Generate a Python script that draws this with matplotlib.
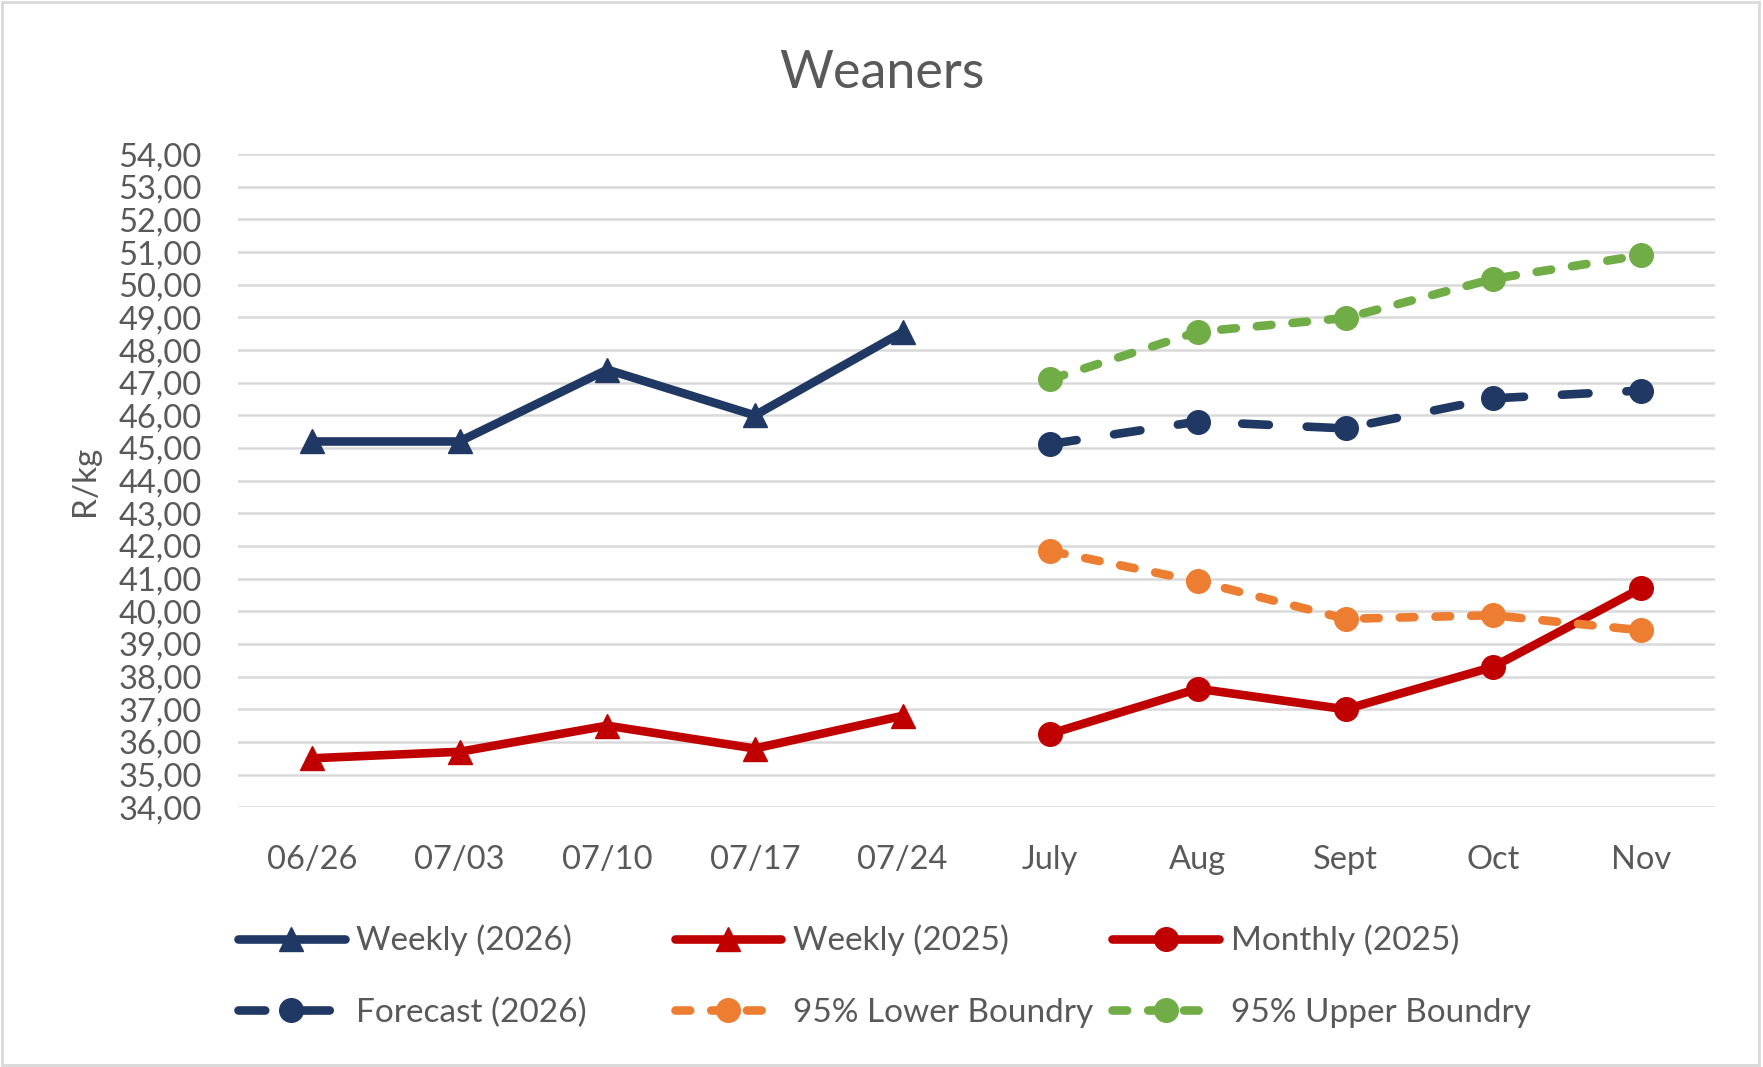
import matplotlib.pyplot as plt
from matplotlib.patches import Rectangle

plt.rcParams['font.family'] = ['Lato', 'DejaVu Sans']

# categories
weeks = ["06/26", "07/03", "07/10", "07/17", "07/24"]
months = ["July", "Aug", "Sept", "Oct", "Nov"]

# series values (R/kg)
weekly_2026 = [45.2, 45.2, 47.4, 46.0, 48.55]
weekly_2025 = [35.5, 35.7, 36.5, 35.8, 36.8]
monthly_2025 = [36.25, 37.63, 37.0, 38.3, 40.7]
forecast_2026 = [45.12, 45.81, 45.6, 46.52, 46.76]
lower_95 = [41.85, 40.92, 39.77, 39.88, 39.42]
upper_95 = [47.1, 48.56, 48.98, 50.18, 50.9]

navy = '#1F3864'
red = '#C00000'
orange = '#ED7D31'
green = '#70AD47'
grey_text = '#595959'

fig = plt.figure(figsize=(17.63, 10.67), dpi=100)
ax = fig.add_axes([0.135, 0.2434, 0.8376, 0.6122])

lw = 6.2
ms = 17

l1, = ax.plot(weeks, weekly_2026, color=navy, lw=lw, marker='^', ms=ms,
              solid_capstyle='round', label='Weekly (2026)')
l2, = ax.plot(weeks, weekly_2025, color=red, lw=lw, marker='^', ms=ms,
              solid_capstyle='round', label='Weekly (2025)')
l3, = ax.plot(months, monthly_2025, color=red, lw=lw, marker='o', ms=ms,
              solid_capstyle='round', label='Monthly (2025)')
l4, = ax.plot(months, forecast_2026, color=navy, lw=lw, marker='o', ms=ms,
              dashes=(3.1, 4.4), dash_capstyle='round', label='Forecast (2026)')
l5, = ax.plot(months, lower_95, color=orange, lw=lw, marker='o', ms=ms,
              dashes=(1.7, 2.45), dash_capstyle='round', label='95% Lower Boundry')
l6, = ax.plot(months, upper_95, color=green, lw=lw, marker='o', ms=ms,
              dashes=(1.7, 2.45), dash_capstyle='round', label='95% Upper Boundry')

ax.set_xlim(-0.5, 9.5)
ax.set_ylim(34, 54)
ax.set_yticks(range(34, 55))
ax.set_yticklabels([f"{v},00" for v in range(34, 55)])
ax.grid(axis='y', color='#D9D9D9', lw=1.8, zorder=0)
ax.set_axisbelow(True)
for s in ax.spines.values():
    s.set_visible(False)
ax.tick_params(axis='y', length=0, pad=26, labelsize=23.5, labelcolor=grey_text)
ax.tick_params(axis='x', length=0, pad=27, labelsize=23.5, labelcolor=grey_text)

fig.text(0.048, 0.5494, 'R/kg', rotation=90, ha='center', va='center',
         fontsize=24, color=grey_text)
fig.text(0.5, 0.931, 'Weaners', ha='center', va='center', fontsize=37.5,
         color=grey_text)

# legend, one column at a time like the Excel layout
cols = [(0.135, [l1, l4]), (0.3827, [l2, l5]), (0.631, [l3, l6])]
for xpos, hs in cols:
    fig.legend(handles=hs, loc='center left', bbox_to_anchor=(xpos, 0.085),
               frameon=False, fontsize=24, handlelength=3.2,
               handletextpad=0.35, borderpad=0, borderaxespad=0,
               labelspacing=1.24, labelcolor=grey_text)

fig.patches.append(Rectangle((0.001, 0.002), 0.997, 0.996, transform=fig.transFigure,
                             fill=False, edgecolor='#D9D9D9', lw=2))

fig.savefig('out.png', dpi=100)
